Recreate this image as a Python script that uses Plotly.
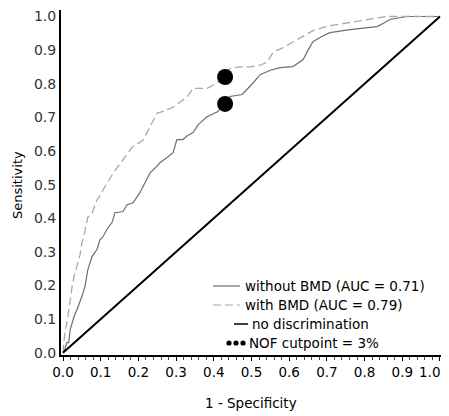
import plotly.graph_objects as go

# ROC curve: without BMD (solid)
fpr_without = [0, 0.005, 0.01, 0.015, 0.019, 0.024, 0.03, 0.037, 0.045, 0.05, 0.058, 0.066, 0.077, 0.085,
               0.09, 0.098, 0.106, 0.118, 0.13, 0.138, 0.143, 0.159, 0.17, 0.186, 0.204, 0.215, 0.231, 0.245,
               0.257, 0.275, 0.292, 0.302, 0.318, 0.33, 0.345, 0.36, 0.382, 0.411, 0.427, 0.443, 0.475, 0.5,
               0.523, 0.55, 0.576, 0.61, 0.637, 0.65, 0.663, 0.685, 0.708, 0.761, 0.8, 0.833, 0.85, 0.867,
               0.912, 1.0]
tpr_without = [0, 0.01, 0.03, 0.03, 0.068, 0.089, 0.11, 0.128, 0.15, 0.167, 0.196, 0.247, 0.286, 0.297,
               0.307, 0.336, 0.345, 0.37, 0.387, 0.417, 0.417, 0.42, 0.44, 0.446, 0.476, 0.5, 0.535, 0.55,
               0.565, 0.58, 0.595, 0.634, 0.634, 0.645, 0.655, 0.68, 0.702, 0.717, 0.744, 0.762, 0.768, 0.797,
               0.827, 0.84, 0.848, 0.851, 0.872, 0.9, 0.925, 0.94, 0.952, 0.961, 0.965, 0.970, 0.98, 0.991,
               1.0, 1.0]

# ROC curve: with BMD (dashed)
fpr_with = [0, 0.003, 0.005, 0.013, 0.018, 0.024, 0.03, 0.037, 0.045, 0.05, 0.058, 0.066, 0.075, 0.08,
            0.09, 0.1, 0.106, 0.12, 0.133, 0.15, 0.164, 0.183, 0.196, 0.212, 0.23, 0.249, 0.27, 0.292, 0.31,
            0.329, 0.345, 0.36, 0.382, 0.408, 0.427, 0.443, 0.47, 0.496, 0.523, 0.541, 0.557, 0.58, 0.61,
            0.635, 0.663, 0.708, 0.75, 0.788, 0.83, 0.859, 0.9, 1.0]
tpr_with = [0, 0.03, 0.06, 0.107, 0.15, 0.196, 0.23, 0.255, 0.29, 0.326, 0.36, 0.404, 0.41, 0.424,
            0.454, 0.47, 0.484, 0.51, 0.534, 0.56, 0.582, 0.611, 0.62, 0.632, 0.67, 0.712, 0.72, 0.73, 0.745,
            0.76, 0.786, 0.786, 0.786, 0.801, 0.822, 0.846, 0.85, 0.85, 0.855, 0.864, 0.893, 0.905, 0.923,
            0.94, 0.958, 0.973, 0.98, 0.988, 0.995, 1.0, 1.0, 1.0]

# Reference line
diag_x = [0, 1]
diag_y = [0, 1]

# NOF cutpoint = 3%
cut_x = [0.43, 0.43]
cut_y = [0.74, 0.82]

tick_vals = [0.0, 0.1, 0.2, 0.3, 0.4, 0.5, 0.6, 0.7, 0.8, 0.9, 1.0]
tick_text = ["0.0", "0.1", "0.2", "0.3", "0.4", "0.5", "0.6", "0.7", "0.8", "0.9", "1.0"]

legend_labels = ["without BMD (AUC = 0.71)", "with BMD (AUC = 0.79)",
                 "no discrimination", "NOF cutpoint = 3%"]

FONT = "DejaVu Sans"
SOLID_C = "#6e6e6e"
DASH_C = "#a8a8a8"

# page geometry (the page body has an 8px margin)
PL, PR, PT, PB = 61, 441, 10, 355
def px(x):
    return (x - PL) / (PR - PL)
def py(y):
    return (PB - y) / (PB - PT)

fig = go.Figure()
fig.add_trace(go.Scatter(x=fpr_without, y=tpr_without, mode="lines",
                         line=dict(color=SOLID_C, width=1.2), name=legend_labels[0]))
fig.add_trace(go.Scatter(x=fpr_with, y=tpr_with, mode="lines",
                         line=dict(color=DASH_C, width=1.3, dash="8px,4px"), name=legend_labels[1]))
fig.add_trace(go.Scatter(x=diag_x, y=diag_y, mode="lines",
                         line=dict(color="black", width=2), name=legend_labels[2]))
fig.add_trace(go.Scatter(x=cut_x, y=cut_y, mode="markers",
                         marker=dict(color="black", size=16, symbol="circle"), name=legend_labels[3]))

# manual legend
rows_y = [286, 305, 324, 343]
text_x = [243, 243, 250, 247]
shapes = [
    dict(type="line", xref="paper", yref="paper", x0=px(213), x1=px(240), y0=py(rows_y[0]), y1=py(rows_y[0]),
         line=dict(color=SOLID_C, width=1.2)),
    dict(type="line", xref="paper", yref="paper", x0=px(213), x1=px(240), y0=py(rows_y[1]), y1=py(rows_y[1]),
         line=dict(color=DASH_C, width=1.2, dash="8px,4px")),
    dict(type="line", xref="paper", yref="paper", x0=px(234), x1=px(248), y0=py(rows_y[2]), y1=py(rows_y[2]),
         line=dict(color="black", width=1.5)),
]
for cx in [229, 236, 243]:
    shapes.append(dict(type="circle", xref="paper", yref="paper", fillcolor="black", line=dict(width=0),
                       x0=px(cx - 2.6), x1=px(cx + 2.6), y0=py(rows_y[3] + 2.6), y1=py(rows_y[3] - 2.6)))

annotations = [
    dict(text="1 - Specificity", xref="paper", yref="paper", x=px(251), y=py(403),
         xanchor="center", yanchor="middle", showarrow=False,
         font=dict(size=13.5, family=FONT, color="black")),
    dict(text="Sensitivity", xref="paper", yref="paper", x=px(17), y=py(185),
         xanchor="center", yanchor="middle", showarrow=False, textangle=-90,
         font=dict(size=13, family=FONT, color="black")),
    # last x tick label drawn as annotation, kept inside the visible page edge
    dict(text=tick_text[-1], xref="x", yref="paper", x=tick_vals[-1], y=py(372),
         xanchor="right", yanchor="middle", showarrow=False, xshift=2,
         font=dict(size=13.5, family=FONT, color="black")),
]
for lab, ty, tx in zip(legend_labels, rows_y, text_x):
    annotations.append(dict(text=lab, xref="paper", yref="paper", x=px(tx), y=py(ty),
                            xanchor="left", yanchor="middle", showarrow=False,
                            font=dict(size=13.5, family=FONT, color="black")))

W, H = 449, 408
fig.update_layout(
    width=W, height=H,
    margin=dict(l=PL - 8, r=W - (PR - 8), t=PT - 8, b=H - (PB - 8), autoexpand=False),
    paper_bgcolor="white", plot_bgcolor="white",
    font=dict(family=FONT, color="black"),
    showlegend=False,
    xaxis=dict(range=[-0.0053, 1.0027], tickvals=tick_vals, ticktext=tick_text[:-1] + [""],
               showgrid=False, zeroline=False, showline=True, linecolor="black", linewidth=2,
               ticks="outside", ticklen=4, tickcolor="black", tickwidth=1,
               minor=dict(dtick=0.02, tick0=0, ticks="outside", ticklen=3, tickcolor="#444"),
               tickfont=dict(size=13.5, color="black", family=FONT),
               ticklabeloverflow="allow", automargin=False),
    yaxis=dict(range=[-0.0068, 1.0193], tickvals=tick_vals, ticktext=tick_text,
               showgrid=False, zeroline=False, showline=True, linecolor="black", linewidth=2,
               ticks="", tickfont=dict(size=14, color="#333", family=FONT),
               ticklabeloverflow="allow", automargin=False),
    shapes=shapes,
    annotations=annotations,
)

fig.write_html("out.html")
